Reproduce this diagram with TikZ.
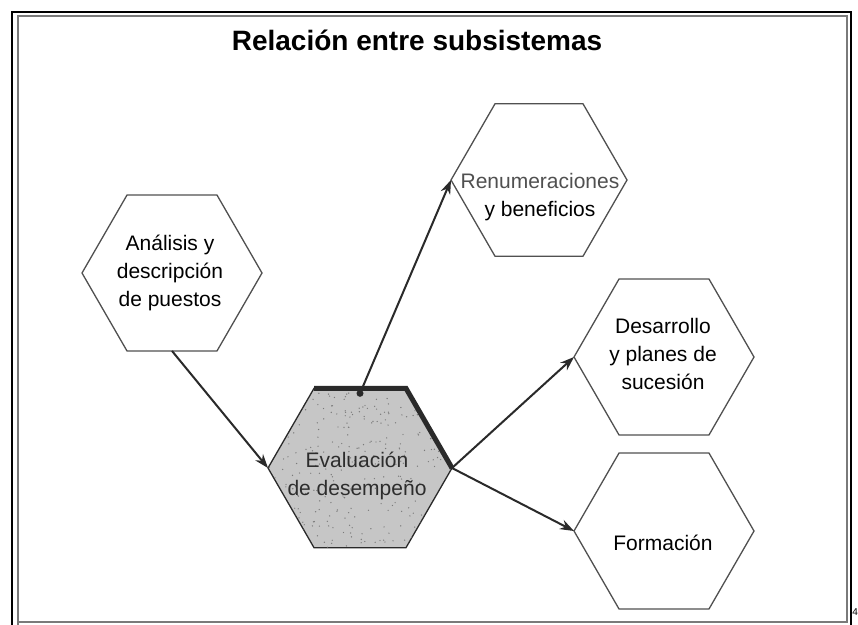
\documentclass[tikz,border=0pt]{standalone}
\usepackage{fontspec}
\setmainfont{Liberation Sans}
\usetikzlibrary{shapes.geometric,arrows.meta}
\definecolor{hexline}{HTML}{505050}
\definecolor{arrowc}{HTML}{2A2A2A}
\definecolor{evfill}{HTML}{C6C6C6}
\definecolor{speck}{HTML}{7A7A7A}
\definecolor{framegray}{HTML}{7A7A7A}
\tikzset{
  hexa/.style={regular polygon, regular polygon sides=6, draw=hexline, line width=1.3pt,
    inner sep=0pt, outer sep=0pt, minimum size=#1},
  hexa/.default=180pt,
  hextext/.style={align=center, font=\fontsize{21}{28}\selectfont, text=black, inner sep=0pt},
  conn/.style={draw=arrowc, line width=2pt, -{Stealth[length=14pt,width=10pt]}},
  titletext/.style={font=\bfseries\fontsize{28}{32}\selectfont, inner sep=0pt}
}
\begin{document}
\begin{tikzpicture}[x=1pt,y=-1pt]
\useasboundingbox (0,0) rectangle (858,624);
\fill[white] (0,0) rectangle (858,624);
% frames
\draw[black, line width=2.5pt] (12,630) -- (12,12) -- (851,12) -- (851,630);
\draw[framegray, line width=1.3pt] (18,630) -- (18,16) -- (847,16) -- (847,622) -- (18,622);
\node[font=\fontsize{10}{12}\selectfont, anchor=east, inner sep=0pt] (pg) at (858,612) {4};
% title
\node[titletext] (title) at (417,40) {Relación entre subsistemas};
% hexagons
\node[hexa=180pt] (ana) at (172,273) {};
\node[hexa=176pt] (ren) at (539,180) {};
\node[hexa=180pt] (des) at (664,357) {};
\node[hexa=180pt] (for) at (664,531) {};
\node[hexa=184pt, fill=evfill, draw=arrowc] (ev) at (360,468) {};
% speckle texture
\begin{scope}
  \clip (ev.0) -- (ev.60) -- (ev.120) -- (ev.180) -- (ev.240) -- (ev.300) -- cycle;
  \pgfmathsetseed{7}
  \foreach \i in {1,...,320}{
    \pgfmathsetmacro\px{268+184*rnd}
    \pgfmathsetmacro\py{388+160*rnd}
    \fill[speck] (\px,\py) circle (0.7pt);
  }
\end{scope}
\draw[arrowc, line width=5pt, line join=miter] (ev.120) -- (ev.60) -- (ev.0);
% texts
\node[hextext] (anat) at (170,273) {Análisis y\\descripción\\de puestos};
\node[hextext] (rent) at (540,197) {\textcolor[HTML]{505050}{Renumeraciones}\\y beneficios};
\node[hextext, text={rgb,255:red,45;green,45;blue,45}] (evt) at (357,476) {Evaluación\\de desempeño};
\node[hextext] (dest) at (663,354) {Desarrollo\\y planes de\\sucesión};
\node[hextext] (fort) at (663,543) {Formación};
% connectors
\node[circle, fill=arrowc, inner sep=0pt, minimum size=7pt] (dot) at ([yshift=-5pt]ev.north) {};
\draw[conn] (ana.south) -- (ev.180);
\draw[conn] (dot.center) -- (ren.180);
\draw[conn] (ev.0) -- (des.180);
\draw[conn] (ev.0) -- (for.180);
\end{tikzpicture}
\end{document}
